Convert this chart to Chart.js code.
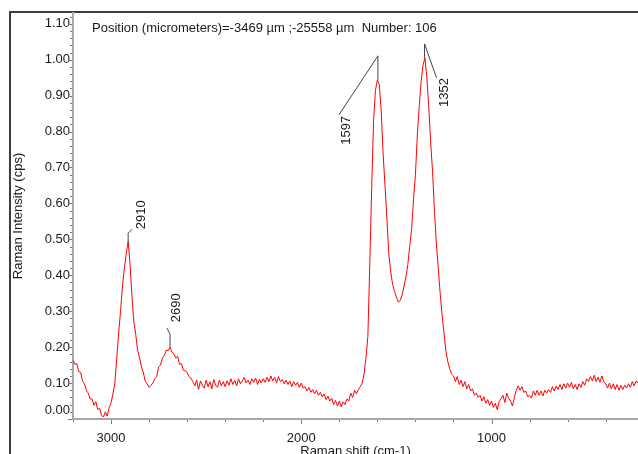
<!DOCTYPE html>
<html lang="en">
<head>
<meta charset="UTF-8">
<title>Raman spectrum</title>
<style>
    html, body {
        margin: 0;
        padding: 0;
        background: #fff;
        overflow: hidden;
    }
    .frame {
        position: absolute;
        left: 9px;
        top: 11px;
        width: 700px;
        height: 500px;
        border-left: 2px solid #3d3d3d;
        border-top: 2px solid #3d3d3d;
    }
    .chart-box {
        position: absolute;
        left: 0;
        top: 0;
    }
</style>
<script src="https://cdn.jsdelivr.net/npm/chart.js"></script>
</head>
<body>
<div class="frame"></div>
<div class="chart-box"><canvas id="spectrum" width="638" height="462"></canvas></div>
<script>
    // Raman shift (cm-1), every 10 cm-1
    const ramanShift = [
        3200, 3190, 3180, 3170, 3160, 3150, 3140, 3130, 3120, 3110,
        3100, 3090, 3080, 3070, 3060, 3050, 3040, 3030, 3020, 3010,
        3000, 2990, 2980, 2970, 2960, 2950, 2940, 2930, 2920, 2910,
        2900, 2890, 2880, 2870, 2860, 2850, 2840, 2830, 2820, 2810,
        2800, 2790, 2780, 2770, 2760, 2750, 2740, 2730, 2720, 2710,
        2700, 2690, 2680, 2670, 2660, 2650, 2640, 2630, 2620, 2610,
        2600, 2590, 2580, 2570, 2560, 2550, 2540, 2530, 2520, 2510,
        2500, 2490, 2480, 2470, 2460, 2450, 2440, 2430, 2420, 2410,
        2400, 2390, 2380, 2370, 2360, 2350, 2340, 2330, 2320, 2310,
        2300, 2290, 2280, 2270, 2260, 2250, 2240, 2230, 2220, 2210,
        2200, 2190, 2180, 2170, 2160, 2150, 2140, 2130, 2120, 2110,
        2100, 2090, 2080, 2070, 2060, 2050, 2040, 2030, 2020, 2010,
        2000, 1990, 1980, 1970, 1960, 1950, 1940, 1930, 1920, 1910,
        1900, 1890, 1880, 1870, 1860, 1850, 1840, 1830, 1820, 1810,
        1800, 1790, 1780, 1770, 1760, 1750, 1740, 1730, 1720, 1710,
        1700, 1690, 1680, 1670, 1660, 1650, 1640, 1630, 1620, 1610,
        1600, 1590, 1580, 1570, 1560, 1550, 1540, 1530, 1520, 1510,
        1500, 1490, 1480, 1470, 1460, 1450, 1440, 1430, 1420, 1410,
        1400, 1390, 1380, 1370, 1360, 1350, 1340, 1330, 1320, 1310,
        1300, 1290, 1280, 1270, 1260, 1250, 1240, 1230, 1220, 1210,
        1200, 1190, 1180, 1170, 1160, 1150, 1140, 1130, 1120, 1110,
        1100, 1090, 1080, 1070, 1060, 1050, 1040, 1030, 1020, 1010,
        1000, 990, 980, 970, 960, 950, 940, 930, 920, 910,
        900, 890, 880, 870, 860, 850, 840, 830, 820, 810,
        800, 790, 780, 770, 760, 750, 740, 730, 720, 710,
        700, 690, 680, 670, 660, 650, 640, 630, 620, 610,
        600, 590, 580, 570, 560, 550, 540, 530, 520, 510,
        500, 490, 480, 470, 460, 450, 440, 430, 420, 410,
        400, 390, 380, 370, 360, 350, 340, 330, 320, 310,
        300, 290, 280, 270, 260, 250, 240, 230
    ];

    // Raman intensity (cps), same order
    const intensity = [
        0.165, 0.152, 0.154, 0.132, 0.130, 0.106, 0.098, 0.080, 0.072, 0.056,
        0.056, 0.038, 0.048, 0.026, 0.030, 0.010, 0.006, 0.020, 0.008, 0.032,
        0.045, 0.070, 0.100, 0.170, 0.240, 0.300, 0.370, 0.420, 0.460, 0.495,
        0.430, 0.340, 0.270, 0.235, 0.190, 0.170, 0.145, 0.128, 0.105, 0.098,
        0.088, 0.094, 0.100, 0.112, 0.118, 0.145, 0.150, 0.170, 0.176, 0.192,
        0.190, 0.200, 0.186, 0.182, 0.170, 0.174, 0.152, 0.154, 0.136, 0.134,
        0.130, 0.118, 0.114, 0.104, 0.092, 0.108, 0.082, 0.106, 0.094, 0.086,
        0.108, 0.090, 0.104, 0.084, 0.110, 0.094, 0.088, 0.108, 0.092, 0.104,
        0.090, 0.106, 0.094, 0.112, 0.096, 0.108, 0.092, 0.112, 0.098, 0.106,
        0.116, 0.100, 0.108, 0.096, 0.112, 0.102, 0.114, 0.096, 0.110, 0.100,
        0.112, 0.102, 0.116, 0.104, 0.120, 0.106, 0.116, 0.100, 0.118, 0.104,
        0.110, 0.098, 0.108, 0.096, 0.106, 0.090, 0.104, 0.094, 0.102, 0.088,
        0.100, 0.086, 0.090, 0.078, 0.088, 0.074, 0.082, 0.070, 0.080, 0.066,
        0.074, 0.062, 0.070, 0.054, 0.064, 0.050, 0.058, 0.040, 0.052, 0.036,
        0.050, 0.034, 0.048, 0.040, 0.056, 0.050, 0.072, 0.060, 0.080, 0.070,
        0.082, 0.090, 0.100, 0.125, 0.170, 0.230, 0.430, 0.640, 0.830, 0.915,
        0.944, 0.930, 0.860, 0.740, 0.650, 0.560, 0.460, 0.410, 0.375, 0.355,
        0.340, 0.325, 0.330, 0.345, 0.370, 0.395, 0.430, 0.480, 0.530, 0.610,
        0.680, 0.790, 0.870, 0.940, 0.985, 1.005, 0.950, 0.870, 0.770, 0.690,
        0.580, 0.490, 0.420, 0.350, 0.290, 0.240, 0.190, 0.160, 0.140, 0.125,
        0.120, 0.104, 0.118, 0.096, 0.108, 0.090, 0.104, 0.084, 0.096, 0.078,
        0.084, 0.066, 0.072, 0.060, 0.066, 0.050, 0.062, 0.044, 0.054, 0.038,
        0.050, 0.032, 0.044, 0.026, 0.048, 0.056, 0.066, 0.046, 0.072, 0.058,
        0.050, 0.036, 0.060, 0.080, 0.092, 0.080, 0.090, 0.074, 0.078, 0.062,
        0.066, 0.058, 0.078, 0.066, 0.080, 0.066, 0.078, 0.064, 0.080, 0.072,
        0.082, 0.074, 0.090, 0.078, 0.092, 0.082, 0.096, 0.082, 0.098, 0.086,
        0.100, 0.088, 0.102, 0.084, 0.096, 0.082, 0.098, 0.088, 0.104, 0.094,
        0.112, 0.104, 0.118, 0.106, 0.122, 0.104, 0.116, 0.102, 0.120, 0.104,
        0.098, 0.086, 0.100, 0.084, 0.098, 0.082, 0.096, 0.080, 0.094, 0.082,
        0.094, 0.086, 0.098, 0.088, 0.104, 0.092, 0.106, 0.100
    ];

    const xTicks = [3000, 2000, 1000];
    const yTicks = [0, 0.1, 0.2, 0.3, 0.4, 0.5, 0.6, 0.7, 0.8, 0.9, 1.0, 1.1];

    // labelled peaks
    const peakShift = [2910, 2690, 1597, 1352];
    const peakIntensity = [0.495, 0.200, 0.944, 1.005];
    const peakLabels = ['2910', '2690', '1597', '1352'];

    const headerText = 'Position (micrometers)=-3469 \u00b5m ;-25558 \u00b5m  Number: 106';

    // leader line shapes (pixels from the peak): up, then to (dx, dy); text start at (lx, ly)
    const leaderShapes = [
        { up: 8, dx: 4, dy: -12, lx: 13, ly: -12 },
        { up: 13, dx: -3, dy: -19, lx: 6, ly: -25 },
        { up: 24, dx: -39, dy: 35, lx: -32, ly: 65 },
        { up: 14, dx: 12, dy: 20, lx: 20, ly: 49 }
    ];

    const textColor = '#1a1a1a';
    const fontFamily = 'Arial, "Liberation Sans", sans-serif';
    Chart.defaults.font.family = fontFamily;
    Chart.defaults.font.size = 13;
    Chart.defaults.color = textColor;

    // ticks, header and peak labels
    const decorations = {
        id: 'decorations',
        afterDraw(chart) {
            const { ctx, chartArea, scales: { x, y } } = chart;
            ctx.save();

            // axis ticks
            ctx.strokeStyle = '#7a7a7a';
            ctx.lineWidth = 1;
            ctx.beginPath();
            for (let k = 0; k <= 56; k++) {
                const py = Math.round(y.getPixelForValue(k * 0.02)) + 0.5;
                const len = k % 5 === 0 ? 4 : 2;
                ctx.moveTo(chartArea.left - 1 - len, py);
                ctx.lineTo(chartArea.left - 1, py);
            }
            for (let v = 400; v <= 3200; v += 200) {
                const px = Math.round(x.getPixelForValue(v)) + 0.5;
                const len = v % 1000 === 0 ? 4 : 2;
                ctx.moveTo(px, chartArea.bottom + 1);
                ctx.lineTo(px, chartArea.bottom + 1 + len);
            }
            ctx.stroke();

            ctx.fillStyle = textColor;
            ctx.font = '13px ' + fontFamily;
            ctx.textBaseline = 'middle';

            // the bottom label sits a little above its tick, kept inside the axis
            ctx.textAlign = 'right';
            ctx.fillText(yTicks[0].toFixed(2), chartArea.left - 3, y.getPixelForValue(0) - 9);

            // header text
            ctx.textAlign = 'left';
            ctx.fillText(headerText, 92, 28);

            // peak leaders and labels
            ctx.strokeStyle = '#444';
            peakShift.forEach((shift, i) => {
                const s = leaderShapes[i];
                const px = x.getPixelForValue(shift);
                const py = y.getPixelForValue(peakIntensity[i]);
                ctx.beginPath();
                ctx.moveTo(px, py);
                ctx.lineTo(px, py - s.up);
                ctx.lineTo(px + s.dx, py + s.dy);
                ctx.stroke();

                ctx.save();
                ctx.translate(px + s.lx, py + s.ly);
                ctx.rotate(-Math.PI / 2);
                ctx.fillText(peakLabels[i], 0, 0);
                ctx.restore();
            });
            ctx.restore();
        }
    };

    const ctx = document.getElementById('spectrum').getContext('2d');
    const spectrumChart = new Chart(ctx, {
        type: 'line',
        data: {
            datasets: [{
                label: 'Raman spectrum',
                data: ramanShift.map((s, i) => ({ x: s, y: intensity[i] })),
                borderColor: '#ff0000',
                borderWidth: 1,
                pointRadius: 0,
                tension: 0
            }]
        },
        options: {
            responsive: false,
            animation: false,
            layout: { padding: { top: 13, right: 0, bottom: 0, left: 0 } },
            plugins: {
                legend: { display: false },
                tooltip: { enabled: false }
            },
            scales: {
                x: {
                    type: 'linear',
                    reverse: true,
                    min: 230,
                    max: 3200,
                    afterFit: (scale) => { scale.height = 43; },
                    afterBuildTicks: (scale) => { scale.ticks = xTicks.map(v => ({ value: v })); },
                    grid: { display: false, drawTicks: false },
                    border: { color: '#a8a8a8', width: 2 },
                    ticks: {
                        padding: 12,
                        maxRotation: 0,
                        autoSkip: false,
                        callback: (v) => String(v)
                    },
                    title: {
                        display: true,
                        text: 'Raman shift (cm-1)',
                        padding: { top: 0, bottom: 3 }
                    }
                },
                y: {
                    min: 0,
                    max: 1.13,
                    afterFit: (scale) => { scale.width = 73; },
                    afterBuildTicks: (scale) => { scale.ticks = yTicks.map(v => ({ value: v })); },
                    grid: { display: false, drawTicks: false },
                    border: { color: '#a8a8a8', width: 2 },
                    ticks: {
                        padding: 3,
                        autoSkip: false,
                        // 0.00 is drawn by the plugin, slightly raised
                        callback: (v) => (v === 0 ? '' : v.toFixed(2))
                    },
                    title: {
                        display: true,
                        text: 'Raman Intensity (cps)',
                        padding: { top: 11, bottom: 0 }
                    }
                }
            }
        },
        plugins: [decorations]
    });
</script>
</body>
</html>
